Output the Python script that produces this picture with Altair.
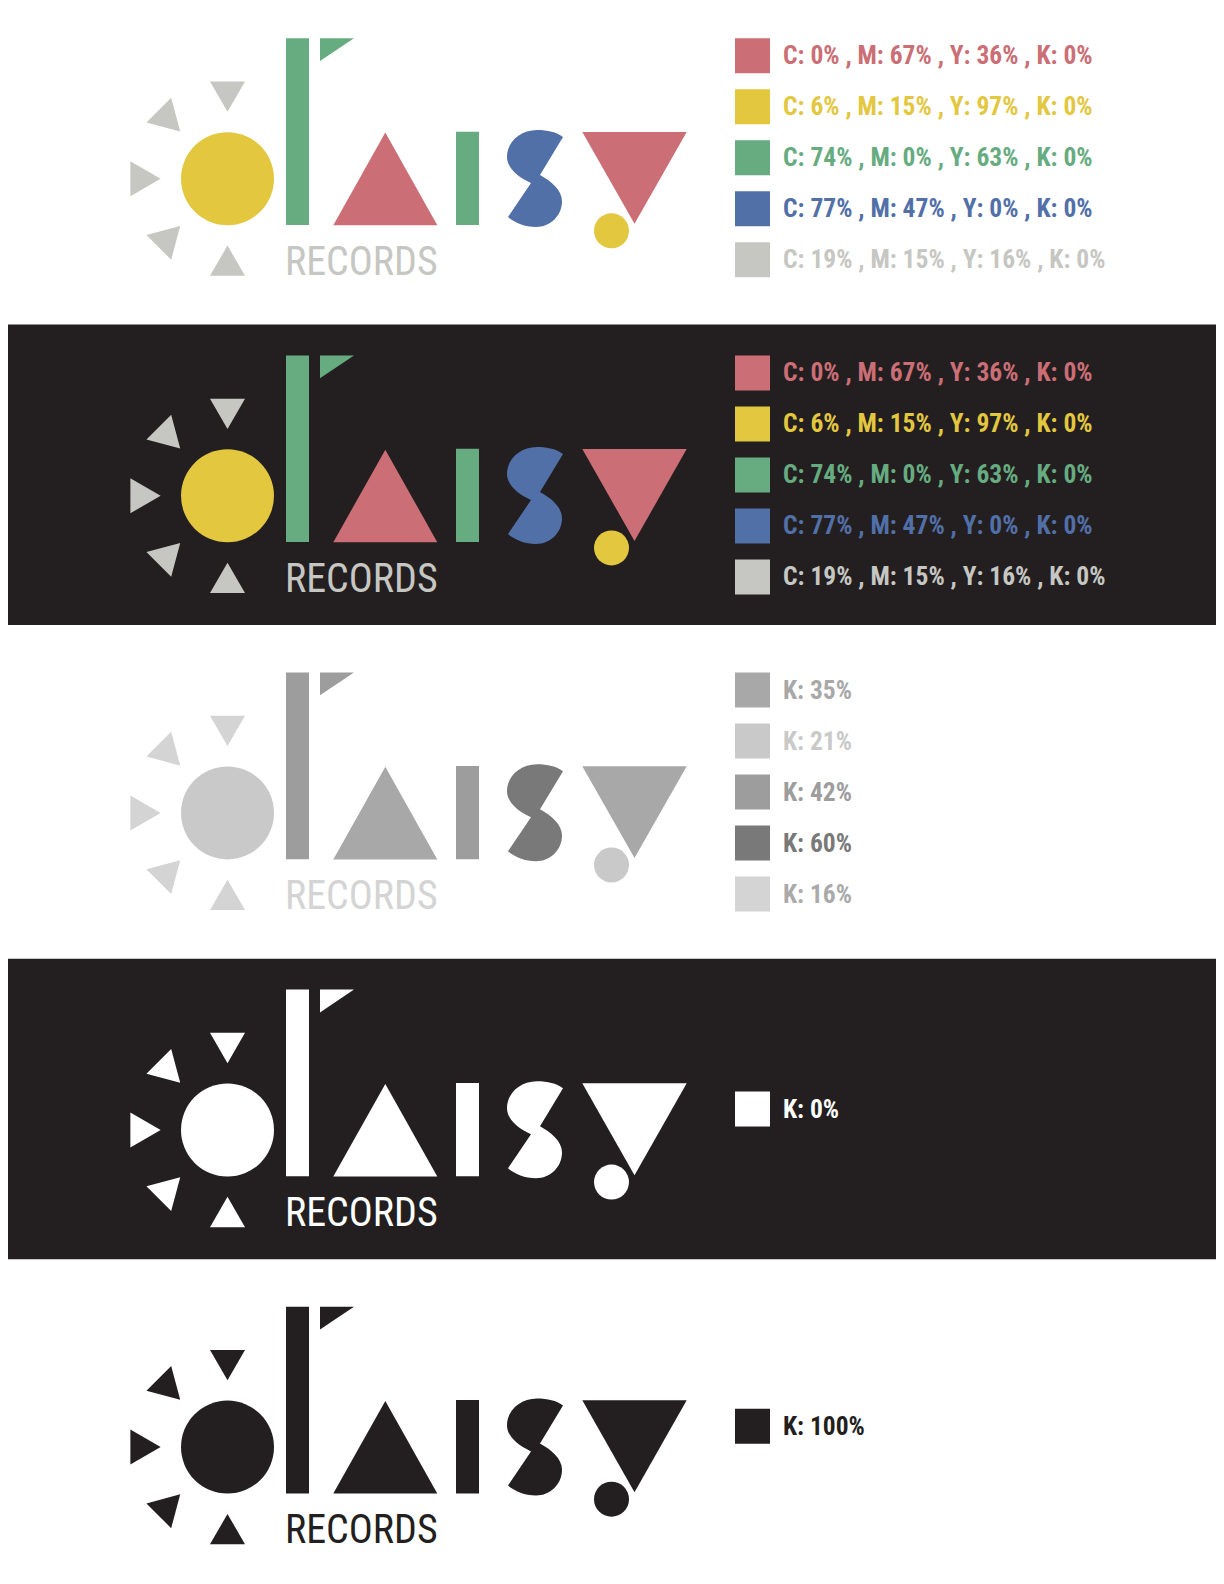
import math
import altair as alt
import pandas as pd

# ---- legend values (what the sheet documents) ----
cmyk_labels = [
    "C: 0% , M: 67% , Y: 36% , K: 0%",
    "C: 6% , M: 15% , Y: 97% , K: 0%",
    "C: 74% , M: 0% , Y: 63% , K: 0%",
    "C: 77% , M: 47% , Y: 0% , K: 0%",
    "C: 19% , M: 15% , Y: 16% , K: 0%",
]
cmyk_colors = ["#cb6e75", "#e2c73f", "#66ac80", "#5270a8", "#c6c6c2"]

grey_labels = ["K: 35%", "K: 21%", "K: 42%", "K: 60%", "K: 16%"]
grey_colors = ["#a8a8a8", "#c9c9c9", "#9d9d9d", "#797979", "#d4d4d4"]
grey_text_colors = ["#a8a8a8", "#c9c9c9", "#9d9d9d", "#797979", "#aaaaaa"]

white_label, white_color = "K: 0%", "#ffffff"
black_label, black_color = "K: 100%", "#231f20"

# which colour each part of the logo takes, per version
roles = ["d", "sun", "rays", "a", "i", "s", "y", "dot", "records"]
colour_role = ["#66ac80", "#e2c73f", "#c6c6c2", "#cb6e75", "#66ac80", "#5270a8", "#cb6e75", "#e2c73f", "#c6c6c2"]
grey_role = ["#9d9d9d", "#c9c9c9", "#d4d4d4", "#a8a8a8", "#9d9d9d", "#797979", "#a8a8a8", "#c9c9c9", "#d4d4d4"]

# ---- layout (page pixels, first band) ----
BAND_STEP = 317.1
DARK = "#231f20"
band_dark = [False, True, False, True, False]
band_top, band_bottom = 324.5, 625

SUN_X, SUN_Y, SUN_D = 227.5, 178.7, 93
RAY_R, RAY_SIDE = 82, 35   # vega centres triangles on their bounding box
ray_pos_angle = [90, 135, 180, 225, 270]

S_PATH = ("M0.1,-0.07C0.32,0.05,0.54,0.23,0.54,0.45C0.54,0.75,0.3,0.97,0.02,0.97"
          "C-0.2,0.97,-0.4,0.89,-0.54,0.77L-0.08,0.09C-0.34,-0.03,-0.56,-0.21,-0.56,-0.43"
          "C-0.56,-0.73,-0.3,-0.97,0.04,-0.97C0.26,-0.97,0.42,-0.93,0.56,-0.83Z")

FONT = "Liberation Sans Narrow, Roboto Condensed, DejaVu Sans Condensed, sans-serif"


def band_versions():
    pal = dict(zip(roles, colour_role))
    gpal = dict(zip(roles, grey_role))
    wpal = {r: white_color for r in roles}
    bpal = {r: black_color for r in roles}
    cmyk_leg = [(i, l, c, c) for i, (l, c) in enumerate(zip(cmyk_labels, cmyk_colors))]
    grey_leg = [(i, l, c, t) for i, (l, c, t) in enumerate(zip(grey_labels, grey_colors, grey_text_colors))]
    return [
        (pal, cmyk_leg),
        (pal, cmyk_leg),
        (gpal, grey_leg),
        (wpal, [(2, white_label, white_color, white_color)]),
        (bpal, [(2, black_label, black_color, black_color)]),
    ]


rects, symbols, words, legend = [], [], [], []
for b, (pal, leg) in enumerate(band_versions()):
    dy = b * BAND_STEP
    if band_dark[b]:
        rects.append(dict(x0=0, x1=1224, y0=band_top + (b - 1) * BAND_STEP,
                          y1=band_bottom + (b - 1) * BAND_STEP, col=DARK))
    # bars of "d" and "i"
    rects.append(dict(x0=286, x1=309, y0=38.3 + dy, y1=225 + dy, col=pal["d"]))
    rects.append(dict(x0=456, x1=479, y0=131.7 + dy, y1=225 + dy, col=pal["i"]))
    # sun and its rays
    symbols.append(dict(x=SUN_X, y=SUN_Y + dy, shape="circle", size=SUN_D ** 2, angle=0, col=pal["sun"]))
    for a in ray_pos_angle:
        t = math.radians(a)
        symbols.append(dict(x=SUN_X + RAY_R * math.cos(t), y=SUN_Y - RAY_R * math.sin(t) + dy,
                            shape="triangle-up", size=RAY_SIDE ** 2, angle=(270 - a) % 360,
                            col=pal["rays"]))
    # flag of "d", "a", "s", "y" and its dot
    symbols.append(dict(x=337, y=49.7 + dy, shape="M-1,-0.67L1,-0.67L-1,0.67Z", size=34 ** 2, angle=0, col=pal["d"]))
    symbols.append(dict(x=385.3, y=178.9 + dy, shape="M0,-0.89L1,0.89L-1,0.89Z", size=104 ** 2, angle=0, col=pal["a"]))
    symbols.append(dict(x=535, y=178.5 + dy, shape=S_PATH, size=100 ** 2, angle=0, col=pal["s"]))
    symbols.append(dict(x=634.5, y=177.9 + dy, shape="M-1,-0.88L1,-0.88L0,0.88Z", size=104.4 ** 2, angle=0, col=pal["y"]))
    symbols.append(dict(x=611.5, y=230.8 + dy, shape="circle", size=35 ** 2, angle=0, col=pal["dot"]))
    words.append(dict(x=285, y=275 + dy, text="RECORDS", col=pal["records"]))
    for row, label, sw, tc in leg:
        top = 38.3 + 51 * row + dy
        rects.append(dict(x0=735, x1=770, y0=top, y1=top + 35, col=sw))
        legend.append(dict(x=783, y=top + 18, text=label, col=tc))

W, H = 1208, 1556
xs = alt.Scale(domain=[8, 8 + W])
ys = alt.Scale(domain=[8, 8 + H], reverse=True)


def X(f):
    return alt.X(f, type="quantitative", scale=xs, axis=None)


def Y(f):
    return alt.Y(f, type="quantitative", scale=ys, axis=None)


fill = alt.Color("col:N", scale=None)

rect_layer = alt.Chart(pd.DataFrame(rects)).mark_rect(clip=True).encode(
    x=X("x0"), x2="x1", y=Y("y0"), y2="y1", color=fill)

symbol_layer = alt.Chart(pd.DataFrame(symbols)).mark_point(
    filled=True, opacity=1, strokeWidth=0).encode(
    x=X("x"), y=Y("y"),
    shape=alt.Shape("shape:N", scale=None),
    size=alt.Size("size:Q", scale=None),
    angle=alt.Angle("angle:Q", scale=None),
    color=fill)

records_layer = alt.Chart(pd.DataFrame(words)).mark_text(
    align="left", baseline="alphabetic", fontSize=40, font=FONT).encode(
    x=X("x"), y=Y("y"), text="text:N", color=fill)

legend_layer = alt.Chart(pd.DataFrame(legend)).mark_text(
    align="left", baseline="middle", fontSize=25.5, fontWeight="bold", font=FONT).encode(
    x=X("x"), y=Y("y"), text="text:N", color=fill)

chart = alt.layer(rect_layer, symbol_layer, records_layer, legend_layer).properties(
    width=W, height=H, padding=0, autosize="none", background="white"
).configure_view(stroke=None)

chart.save("out.html", embed_options={"renderer": "svg", "actions": False})
